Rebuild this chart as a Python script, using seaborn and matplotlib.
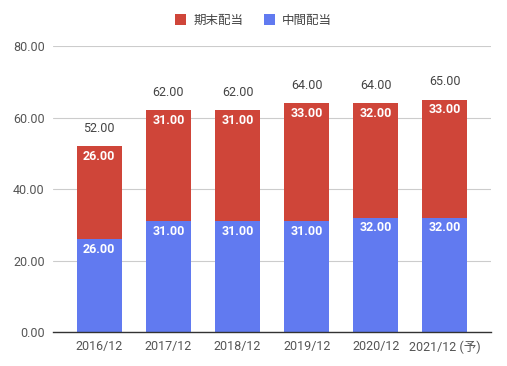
import numpy as np
import pandas as pd
import matplotlib
matplotlib.use("Agg")
import matplotlib.pyplot as plt
import seaborn as sns
from matplotlib.patches import Patch

# データ
periods = ['2016/12', '2017/12', '2018/12', '2019/12', '2020/12', '2021/12 (予)']
interim = [26, 31, 31, 31, 32, 32]      # 中間配当
year_end = [26, 31, 31, 33, 32, 33]     # 期末配当
series_names = ['期末配当', '中間配当']
yticks = [0, 20, 40, 60, 80]

red = '#cf4539'
blue = '#617af0'

sns.set_theme(style='white')
plt.rcParams['font.family'] = ['Roboto', 'Noto Sans CJK JP', 'DejaVu Sans']

df = pd.DataFrame({'period': periods, 'interim': interim, 'year_end': year_end})
df['total'] = df['interim'] + df['year_end']

fig = plt.figure(figsize=(5.07, 3.66), dpi=100)
ax = fig.add_axes([0.1045, 0.093, 0.8645, 0.781])

# 合計(赤)を先に描いて、その上に中間(青)を重ねる
sns.barplot(data=df, x='period', y='total', color=red, width=0.65,
            saturation=1, linewidth=0, ax=ax, zorder=2)
sns.barplot(data=df, x='period', y='interim', color=blue, width=0.65,
            saturation=1, linewidth=0, ax=ax, zorder=3)

ax.set_xlim(-0.67, 5.67)
ax.set_ylim(0, 80)
ax.set_yticks(yticks)
ax.set_yticklabels([f'{v:.2f}' for v in yticks], color='#555555', fontsize=9)
ax.tick_params(axis='x', labelsize=9, colors='#555555', length=0, pad=6)
ax.tick_params(axis='y', length=0, pad=6)
ax.set_xlabel('')
ax.set_ylabel('')
ax.grid(axis='y', color='#cccccc', linewidth=0.8, zorder=0)
for s in ['top', 'right', 'left']:
    ax.spines[s].set_visible(False)
ax.spines['bottom'].set_color('#333333')
ax.spines['bottom'].set_linewidth(1.0)
ax.spines['bottom'].set_zorder(5)

# ラベル
for i, row in df.iterrows():
    ax.text(i, row['total'] + 3.2, f"{row['total']:.2f}", ha='center', va='bottom',
            fontsize=9, color='#444444')
    ax.text(i, row['total'] - 1.0, f"{row['year_end']:.2f}", ha='center', va='top',
            fontsize=9, color='white', fontweight='bold', zorder=6)
    ax.text(i, row['interim'] - 1.0, f"{row['interim']:.2f}", ha='center', va='top',
            fontsize=9, color='white', fontweight='bold', zorder=6)

handles = [Patch(facecolor=red, edgecolor='none'), Patch(facecolor=blue, edgecolor='none')]
fig.legend(handles, series_names, loc='center', bbox_to_anchor=(0.5, 0.945), ncol=2,
           frameon=False, fontsize=9, handlelength=0.9, handleheight=0.9,
           handletextpad=0.6, columnspacing=1.6, labelcolor='#444444')

fig.savefig('out.png', dpi=100)
